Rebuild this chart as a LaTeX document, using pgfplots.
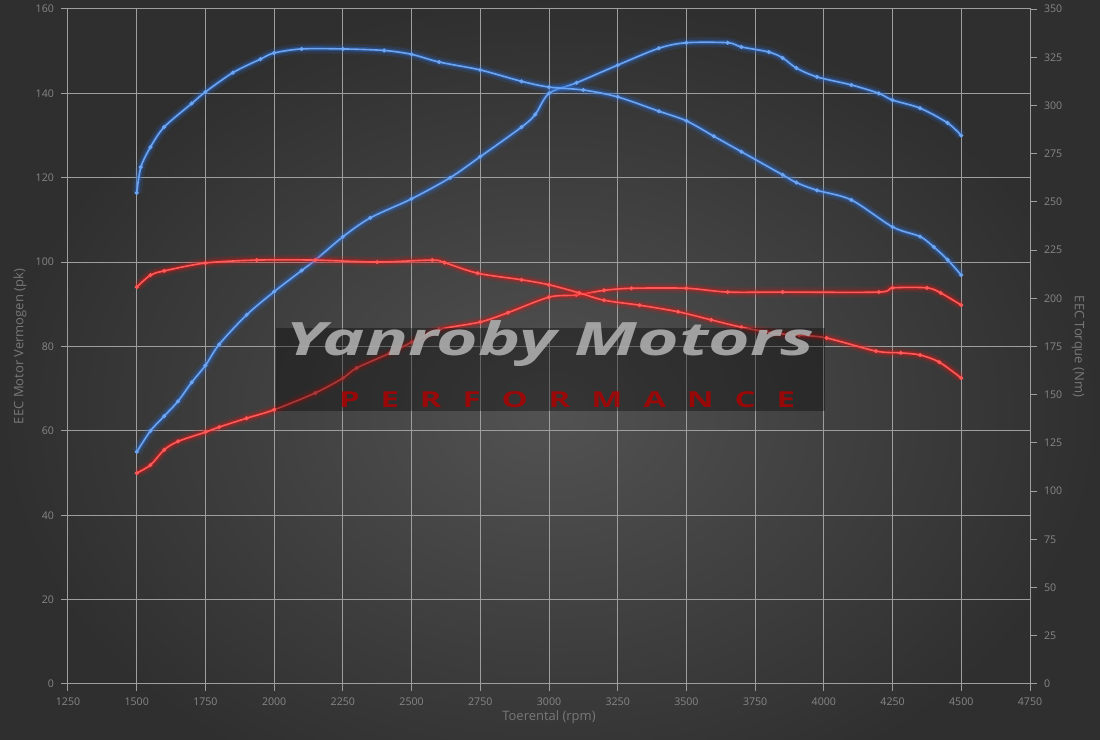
\documentclass[border=0pt]{standalone}
\usepackage{pgfplots}
\usepackage{pgfplotstable}
\pgfplotsset{compat=1.18}
\usepackage{fontspec}
\setmainfont{Open Sans}

\definecolor{bgin}{RGB}{82,82,82}
\definecolor{bgout}{RGB}{47,47,47}
\definecolor{gridc}{RGB}{158,158,158}
\definecolor{tickc}{RGB}{135,135,135}
\definecolor{labc}{RGB}{120,120,120}
\definecolor{blueglow}{RGB}{40,110,220}
\definecolor{bluecore}{RGB}{110,165,240}
\definecolor{redglow}{RGB}{225,20,20}
\definecolor{redcore}{RGB}{255,90,90}

% tuned power (pk)
\pgfplotstableread{
rpm pk
1500 55
1550 60
1600 63.5
1650 67
1700 71.5
1750 75.5
1800 80.5
1900 87.5
2000 93
2100 98
2150 100.5
2250 106
2350 110.5
2500 115
2640 120
2750 125
2900 132
2950 135
3000 140
3100 142.5
3250 146.7
3400 150.7
3500 152
3650 152
3700 151
3800 149.8
3850 148.4
3900 146
3975 143.9
4100 142
4200 140
4250 138.4
4350 136.5
4450 133
4500 130
}\tunedpk

% tuned torque (Nm)
\pgfplotstableread{
rpm nm
1500 254.6
1515 268
1550 278.4
1600 288.8
1700 301
1750 307
1850 317
1950 324
2000 327.2
2100 329.3
2250 329.3
2400 328.5
2500 326.5
2600 322.5
2750 318.4
2900 312.5
3000 309.5
3125 308
3250 304.4
3400 297
3500 292
3600 284
3700 276
3850 264
3900 260
3975 256
4100 251
4250 237
4350 232
4400 226.6
4450 220
4500 212
}\tunednm

% stock power (pk)
\pgfplotstableread{
rpm pk
1500 50
1550 51.9
1600 55.5
1650 57.5
1750 59.7
1800 60.9
1900 63
2000 65
2150 69
2250 72.5
2300 74.9
2420 78.4
2500 81
2600 84
2750 85.8
2850 88
3000 91.7
3100 92.2
3200 93.3
3300 93.8
3500 93.8
3650 92.9
3850 92.9
4200 92.9
4250 93.9
4375 93.9
4425 92.7
4500 89.8
}\stockpk

% stock torque (Nm)
\pgfplotstableread{
rpm nm
1500 205.8
1550 212
1600 214.2
1750 218.3
1937 219.8
2150 219.8
2375 218.8
2575 219.8
2620 218.5
2740 213
2900 209.6
3000 207
3110 202.8
3200 199
3330 196.4
3470 193
3590 188.8
3700 185
3815 182
3910 180.9
4010 179.4
4190 172.6
4280 171.7
4350 170.6
4420 166.9
4500 158.6
}\stocknm

\pgfplotsset{
  dyno/.style={
    scale only axis, width=481pt, height=337.5pt,
    xmin=1250, xmax=4750,
    axis line style={gridc, line width=0.5pt},
    tick style={gridc, line width=0.5pt},
    tick align=outside, major tick length=3.5pt,
    ticklabel style={font=\fontsize{5.3}{6}\selectfont, text=tickc},
    /pgf/number format/assume math mode=true,
    /pgf/number format/1000 sep={},
    scaled ticks=false,
    label style={font=\fontsize{6.5}{7.5}\selectfont, text=labc},
  },
  glow/.style={#1, line width=5pt, opacity=0.16, smooth, mark=none},
  halo/.style={#1, line width=2.4pt, opacity=0.38, smooth, mark=none},
  core/.style={#1, line width=0.8pt, smooth, mark=*, mark size=0.55pt,
    mark options={fill=#1, draw=none}},
}

\begin{document}
\begin{tikzpicture}[x=1pt, y=1pt]
% page frame; the axis box south west corner sits at the origin
\useasboundingbox (-34,-28) rectangle (516,342);
\begin{scope}
  \clip (-34,-28) rectangle (516,342);
  \shade[inner color=bgin, outer color=bgout] (-34,-70) rectangle (516,342);
\end{scope}

\begin{axis}[dyno,
  ymin=0, ymax=160,
  xtick distance=250, ytick distance=20,
  xtick pos=left, ytick pos=left,
  grid=major, grid style={gridc, line width=0.5pt},
  xlabel={Toerental (rpm)},
  ylabel={EEC Motor Vermogen (pk)},
  xlabel style={at={(axis description cs:0.5,-0.049)}, anchor=center},
  ylabel style={at={(axis description cs:-0.05,0.5)}, anchor=center},
]
\addplot[glow=blueglow] table[x=rpm, y=pk] {\tunedpk};
\addplot[halo=blueglow] table[x=rpm, y=pk] {\tunedpk};
\addplot[core=bluecore] table[x=rpm, y=pk] {\tunedpk};
\addplot[glow=redglow] table[x=rpm, y=pk] {\stockpk};
\addplot[halo=redglow] table[x=rpm, y=pk] {\stockpk};
\addplot[core=redcore] table[x=rpm, y=pk] {\stockpk};
\end{axis}

\begin{axis}[dyno,
  ymin=0, ymax=350,
  axis x line=none, axis y line*=right,
  ytick distance=25,
  ylabel={EEC Torque (Nm)},
  ylabel style={at={(axis description cs:1.05,0.5)}, anchor=center, rotate=180},
]
\addplot[glow=blueglow] table[x=rpm, y=nm] {\tunednm};
\addplot[halo=blueglow] table[x=rpm, y=nm] {\tunednm};
\addplot[core=bluecore] table[x=rpm, y=nm] {\tunednm};
\addplot[glow=redglow] table[x=rpm, y=nm] {\stocknm};
\addplot[halo=redglow] table[x=rpm, y=nm] {\stocknm};
\addplot[core=redcore] table[x=rpm, y=nm] {\stocknm};
\end{axis}

% watermark
\fill[black, opacity=0.35] (104,136.5) rectangle (378.5,178);
\node[text=white!68!black, opacity=0.9, font=\fontsize{23}{24}\selectfont\bfseries\itshape, xscale=1.55]
  at (241,170) {Yanroby Motors};
\node[text=red!70!black, opacity=0.8, font=\fontsize{11}{12}\selectfont\bfseries, xscale=1.5]
  at (249.5,142) {\makebox[152pt]{P\hfill E\hfill R\hfill F\hfill O\hfill R\hfill M\hfill A\hfill N\hfill C\hfill E}};
\end{tikzpicture}
\end{document}
